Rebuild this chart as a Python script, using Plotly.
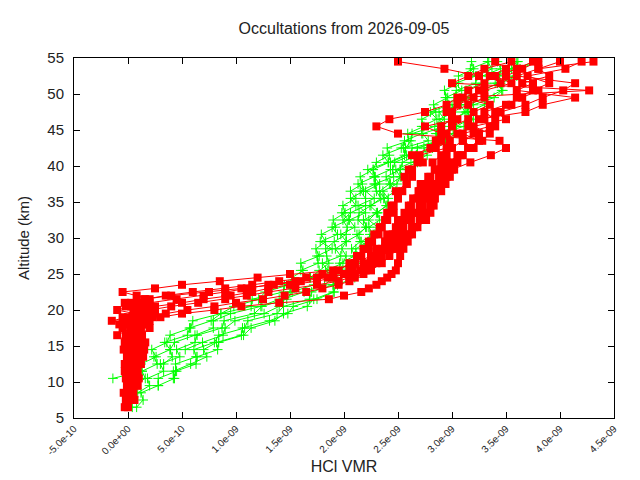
import plotly.graph_objects as go

# HCl VMR values are stored in units of 1e-10 and scaled when plotted
SCALE = 1e-10

GREEN_ALT = [6.5, 7.5, 8.5, 9.5, 10.5, 11.5, 12.5, 13.5, 14.5, 15.5, 16.5, 17.5, 18.5, 19.5, 20.5, 21.5,
             22.5, 23.5, 24.5, 25.5, 26.5, 27.5, 28.5, 29.5, 30.5, 31.5, 32.5, 33.5, 34.5, 35.5, 36.5, 37.5,
             38.5, 39.5, 40.5, 41.5, 42.5, 43.5, 44.5, 45.5, 46.5, 47.5, 48.5, 49.5, 50.5, 51.5, 52.5, 53.5, 54.5]

green_1 = [None, None, None, None, -1.4, 1.3, 1.2, 2.6, 2.2, 3.6, 3.9, 5.8, 6.0, 8.6, 9.8, 12.1,
           12.7, 14.9, 15.2, 16.2, 16.0, 17.7, 17.4, 18.3, 17.9, 19.2, 19.0, 20.1, 19.9, 21.1, 20.6, 21.7,
           21.5, 22.7, 23.0, 24.2, 24.0, 26.0, 25.9, 27.4, 27.2, 28.5, 28.3, 29.6, 29.3, 30.6, 30.6, 32.0, 31.8]
green_2 = [None, None, None, 2.8, 4.3, 4.4, 6.3, 6.4, 8.3, 8.4, 10.7, 11.4, 13.6, 14.4, 16.6, 17.2,
           19.0, 19.4, 21.0, 20.1, 21.3, 21.2, 22.3, 21.6, 22.7, 22.3, 23.3, 23.1, 23.9, 23.7, 24.8, 24.3,
           25.3, 25.2, 26.8, 26.7, 28.2, 29.0, 30.1, 30.4, 31.6, 31.5, 33.0, 33.3, 34.6, 34.5, 36.0, 36.3, 37.9]
green_3 = [0.4, -0.1, 0.6, 0.5, 1.6, 1.3, 2.7, 2.4, 3.9, 3.4, 5.5, 5.7, 7.7, 8.6, 11.4, 11.5,
           14.4, 14.5, 16.8, 16.0, 17.6, 17.5, 18.9, 17.8, 19.4, 18.9, 20.4, 19.8, 21.1, 20.6, 21.8, 21.3,
           22.8, 22.2, 24.1, 23.6, 25.3, 25.6, 27.2, 27.2, 28.6, 28.0, 29.7, 29.4, 30.9, 30.3, 32.2, 31.7, 33.4]
green_4 = [None, None, None, None, None, None, 3.3, 4.1, 3.9, 4.3, 6.2, 7.9, 7.9, 9.5, 12.3, 14.0,
           15.0, 15.1, 16.9, 17.7, 18.6, 18.4, 18.3, 19.1, 20.2, 20.3, 19.9, 20.6, 22.0, 22.0, 21.5, 22.9,
           22.9, 22.7, 24.1, 25.6, 25.7, 26.2, 26.3, 28.4, 29.3, 28.8, 30.7, 30.2, 30.4, 32.2, 32.3, 33.7, 33.3]
green_5 = [None, None, 0.9, 2.0, 1.8, 3.3, 3.0, 4.8, 4.5, 6.2, 6.4, 8.7, 8.9, 11.7, 12.4, 14.7,
           15.2, 17.2, 17.5, 18.5, 18.0, 19.7, 19.2, 20.2, 19.7, 21.0, 20.5, 22.0, 21.3, 22.8, 22.0, 23.3,
           22.8, 24.3, 24.3, 25.8, 25.5, 27.8, 27.3, 29.3, 28.8, 30.3, 30.0, 31.8, 31.3, 32.8, 32.8, 34.5, 34.2]
green_6 = [None, None, None, None, None, None, None, None, 5.3, 6.9, 8.8, 9.0, 9.9, 12.6, 14.0, 14.4,
           16.3, 18.2, 19.0, 18.3, 19.9, 20.2, 19.8, 20.2, 21.4, 22.0, 21.3, 21.4, 22.5, 23.4, 23.0, 22.8,
           24.6, 24.5, 24.7, 26.2, 26.3, 28.8, 28.5, 28.7, 30.2, 31.2, 30.8, 31.2, 33.0, 33.2, 33.4, 35.5, 36.0]
green_7 = [0.8, 1.4, 1.2, 2.8, 2.8, 4.5, 4.4, 6.3, 6.1, 8.0, 8.4, 10.8, 11.1, 13.8, 14.4, 16.8,
           17.0, 19.0, 19.1, 19.9, 19.6, 21.0, 20.7, 21.5, 21.2, 22.1, 21.8, 23.1, 22.4, 23.7, 23.3, 24.2,
           23.9, 25.2, 25.4, 26.7, 26.8, 28.9, 28.6, 30.4, 30.1, 31.4, 31.5, 33.2, 32.9, 34.2, 34.4, 36.0, 36.1]
green_8 = [None, None, None, None, 4.2, 4.2, 5.8, 7.3, 7.0, 8.2, 10.5, 10.6, 13.1, 14.8, 15.3, 17.5,
           19.1, 19.0, 19.7, 20.5, 21.3, 21.1, 21.1, 22.2, 22.4, 23.1, 22.3, 23.0, 24.0, 24.1, 23.6, 24.9,
           25.2, 24.8, 26.2, 27.7, 27.4, 29.4, 28.8, 31.1, 32.0, 31.3, 32.0, 33.9, 34.7, 34.0, 35.7, 35.7, 37.8]

RED_ALT = [6.5, 7.5, 8.5, 9.5, 10.5, 11.5, 12.5, 13.5, 14.5, 15.5, 16.5, 17.5,
           18.0, 18.5, 19.0, 19.5, 20.0, 20.5, 21.0, 21.5, 22.0, 22.5, 23.0, 23.5, 24.0, 24.5, 25.0, 25.5,
           26.5, 27.5, 28.5, 29.5, 30.5, 31.5, 32.5, 33.5, 34.5, 35.5, 36.5, 37.5, 38.5, 39.5, 40.5, 41.5,
           42.5, 43.5, 44.5, 45.5, 46.5, 47.5, 48.5, 49.5, 50.5, 51.5, 52.5, 53.5, 54.5]

red_1 = [None, None, None, 0.3, 0.1, 0.5, 0.2, 0.4, 0.0, 0.6, 0.3, 0.8,
         0.5, 1.0, 0.4, 1.2, 0.7, 1.5, 1.0, 2.0, 0.8, -0.5, 2.5, 5.0, 8.5, 12.0, 15.0, 19.0,
         21.0, 22.5, 23.5, 23.8, 24.5, 25.0, 25.3, 26.0, 26.2, 26.8, 27.0, 27.5, 28.0, 28.4, 29.0, 29.5,
         30.0, 31.0, 32.0, 31.5, 33.0, 34.5, 36.8, 38.4, 40.3, 41.4, 36.0, 38.0, 43.1]
red_2 = [None, None, None, None, None, 0.6, 0.9, 0.4, 1.0, 0.5, 1.1, 0.2,
         1.3, 0.6, 1.8, 0.9, 2.2, 1.1, 0.3, 1.6, 3.5, 6.0, 9.0, 11.5, 14.0, 16.5, 18.0, 19.5,
         20.5, 21.2, 21.8, 22.3, 22.8, 23.3, 23.8, 24.0, 24.6, 25.0, 25.4, 25.8, 26.3, 26.0, 27.3, 27.0,
         29.5, 29.0, 30.5, 30.0, 31.5, 32.0, 33.5, 31.0, 33.0, 35.5, 34.0, 36.0, 37.5]
red_3 = [0.0, -0.2, 0.3, -0.1, 0.4, 0.0, -0.3, 0.2, -0.4, 0.1, -0.2, 0.5,
         -0.8, 0.2, -0.5, 0.6, -1.0, 0.3, -0.3, 1.5, 4.0, 7.5, 10.5, 13.5, 16.0, 18.5, 20.0, 20.8,
         21.8, 22.8, 23.0, 23.9, 24.0, 24.8, 25.0, 25.6, 26.0, 26.4, 26.9, 27.1, 27.8, 28.5, 28.2, 29.0,
         28.5, 29.8, 29.0, 27.5, 30.5, 30.0, 31.5, 33.0, 32.5, 34.5, 33.5, 35.0, 34.0]
red_4 = [None, None, 0.5, 0.8, 0.3, 0.9, 0.6, 1.0, 0.7, 0.9, 0.4, 1.2,
         0.1, 2.0, 0.9, 2.5, 1.4, -0.2, 2.0, 4.5, 7.0, 9.0, 11.0, 13.0, 15.5, 17.5, 19.0, 21.5,
         22.5, 23.0, 24.0, 24.5, 25.0, 25.5, 26.0, 26.5, 27.0, 27.5, 27.8, 28.2, 28.8, 29.5, 30.5, 31.0,
         31.5, 32.5, 31.0, 33.5, 34.0, 33.0, 35.0, 36.5, 38.0, 36.5, 39.0, 38.0, 40.0]
red_5 = [-0.3, 0.1, -0.4, 0.2, -0.2, 0.4, 0.0, 0.6, 0.2, -0.3, 0.7, -0.5,
         1.0, -1.5, 0.0, 1.5, 0.5, 2.5, 5.0, 7.0, 9.5, 11.5, 13.0, 15.0, 17.5, 19.0, 20.0, 20.5,
         21.0, 21.6, 22.3, 22.6, 23.2, 23.5, 24.0, 24.6, 24.4, 25.0, 24.8, 25.8, 25.6, 26.3, 26.8, 26.3,
         28.0, 28.5, 29.5, 29.0, 30.0, 29.5, 30.5, 32.0, 31.5, 33.0, 32.5, 29.3, 25.0]
red_6 = [None, None, None, None, 1.0, 0.5, 1.2, 0.8, 1.5, 1.0, 1.3, 0.6,
         1.8, 1.0, 2.3, 1.2, 2.0, 4.0, 6.5, 9.0, 11.0, 13.0, 15.5, 17.5, 19.5, 20.5, 21.0, 22.0,
         23.0, 23.5, 24.5, 25.0, 25.5, 26.3, 27.0, 27.5, 28.0, 28.4, 27.5, 28.5, 29.0, 30.0, 31.7, 33.6,
         35.0, 34.4, 25.0, 23.0, 24.2, 27.5, 29.5, 30.5, 42.7, 30.0, 31.5, 33.0, 35.5]
red_7 = [None, 0.6, 0.2, 0.9, 0.4, -0.3, 0.7, -0.1, 0.5, 0.0, -1.0, 0.3,
         -0.4, 0.8, 1.5, 3.5, 5.5, 8.0, 10.0, 12.5, 14.5, 16.5, 18.0, 19.5, 20.5, 21.0, 21.8, 22.5,
         23.5, 24.2, 25.0, 25.5, 26.0, 26.5, 26.2, 27.0, 27.3, 27.8, 28.5, 29.0, 29.5, 29.0, 30.0, 30.5,
         32.0, 31.0, 32.5, 34.0, 32.5, 36.8, 38.4, 41.4, 36.0, 37.5, 35.0, 36.5, 38.0]
red_8 = [None, None, None, None, None, None, 0.8, 1.4, 0.9, 1.6, 1.1, 2.0,
         1.0, 1.4, 3.0, 5.0, 8.0, 10.5, 14.0, 18.6, 20.0, 21.6, 22.3, 23.0, 23.5, 24.0, 24.4, 24.8,
         25.0, 25.2, 25.5, 25.9, 26.3, 26.8, 27.6, 28.0, 28.3, 28.4, 29.0, 29.4, 29.8, 30.2, 29.5, 30.8,
         31.5, 32.8, 33.5, 32.0, 35.0, 34.0, 35.5, 36.0, 37.5, 39.0, 37.0, 40.5, 42.0]

red_profiles = [red_1, red_2, red_3, red_4, red_5, red_6, red_7, red_8]
green_profiles = [green_1, green_2, green_3, green_4, green_5, green_6, green_7, green_8]

x_tickvals = [-5e-10, 0.0, 5e-10, 1e-9, 1.5e-9, 2e-9, 2.5e-9, 3e-9, 3.5e-9, 4e-9, 4.5e-9]
x_ticktext = ['-5.0e-10', '0.0e+00', '5.0e-10', '1.0e-09', '1.5e-09', '2.0e-09',
              '2.5e-09', '3.0e-09', '3.5e-09', '4.0e-09', '4.5e-09']
y_tickvals = [5, 10, 15, 20, 25, 30, 35, 40, 45, 50, 55]


def scaled(values):
    return [None if v is None else v * SCALE for v in values]


fig = go.Figure()

for prof in green_profiles:
    fig.add_trace(go.Scatter(
        x=scaled(prof), y=GREEN_ALT, mode='lines+markers',
        line=dict(color='#00ff00', width=1),
        marker=dict(symbol='cross-thin-open', size=7, color='#00ff00', line=dict(width=1, color='#00ff00')),
        showlegend=False, connectgaps=False))

for prof in red_profiles:
    fig.add_trace(go.Scatter(
        x=scaled(prof), y=RED_ALT, mode='lines+markers',
        line=dict(color='#ff0000', width=1),
        marker=dict(symbol='square', size=8, color='#ff0000', line=dict(width=0)),
        showlegend=False, connectgaps=False))

# the page body adds an 8px offset, so the margins are shifted to compensate
fig.update_layout(
    width=640, height=480,
    paper_bgcolor='white', plot_bgcolor='white',
    margin=dict(l=66, r=34, t=50, b=70),
    font=dict(family='Liberation Sans, Arial, sans-serif', color='#222222'),
    title=dict(text='Occultations from 2026-09-05', x=0.5, xref='paper', xanchor='center',
               y=1 - 20 / 480, yref='container', yanchor='middle', font=dict(size=16)),
)

fig.update_xaxes(
    range=[-5e-10, 4.5e-9], tickvals=x_tickvals, ticktext=x_ticktext, tickangle=-45,
    tickfont=dict(size=10), ticks='inside', ticklen=6, tickcolor='black',
    showline=True, linecolor='black', linewidth=1, mirror='ticks', showgrid=False, zeroline=False,
    title=dict(text='HCl VMR', font=dict(size=16), standoff=4), automargin=False)
fig.update_yaxes(
    range=[5, 55], tickvals=y_tickvals, tickfont=dict(size=15), ticks='inside', ticklen=6,
    tickcolor='black', showline=True, linecolor='black', linewidth=1, mirror='ticks',
    showgrid=False, zeroline=False, ticklabelstandoff=6,
    title=dict(text='Altitude (km)', font=dict(size=15), standoff=14), automargin=False)

fig.write_html("out.html")
